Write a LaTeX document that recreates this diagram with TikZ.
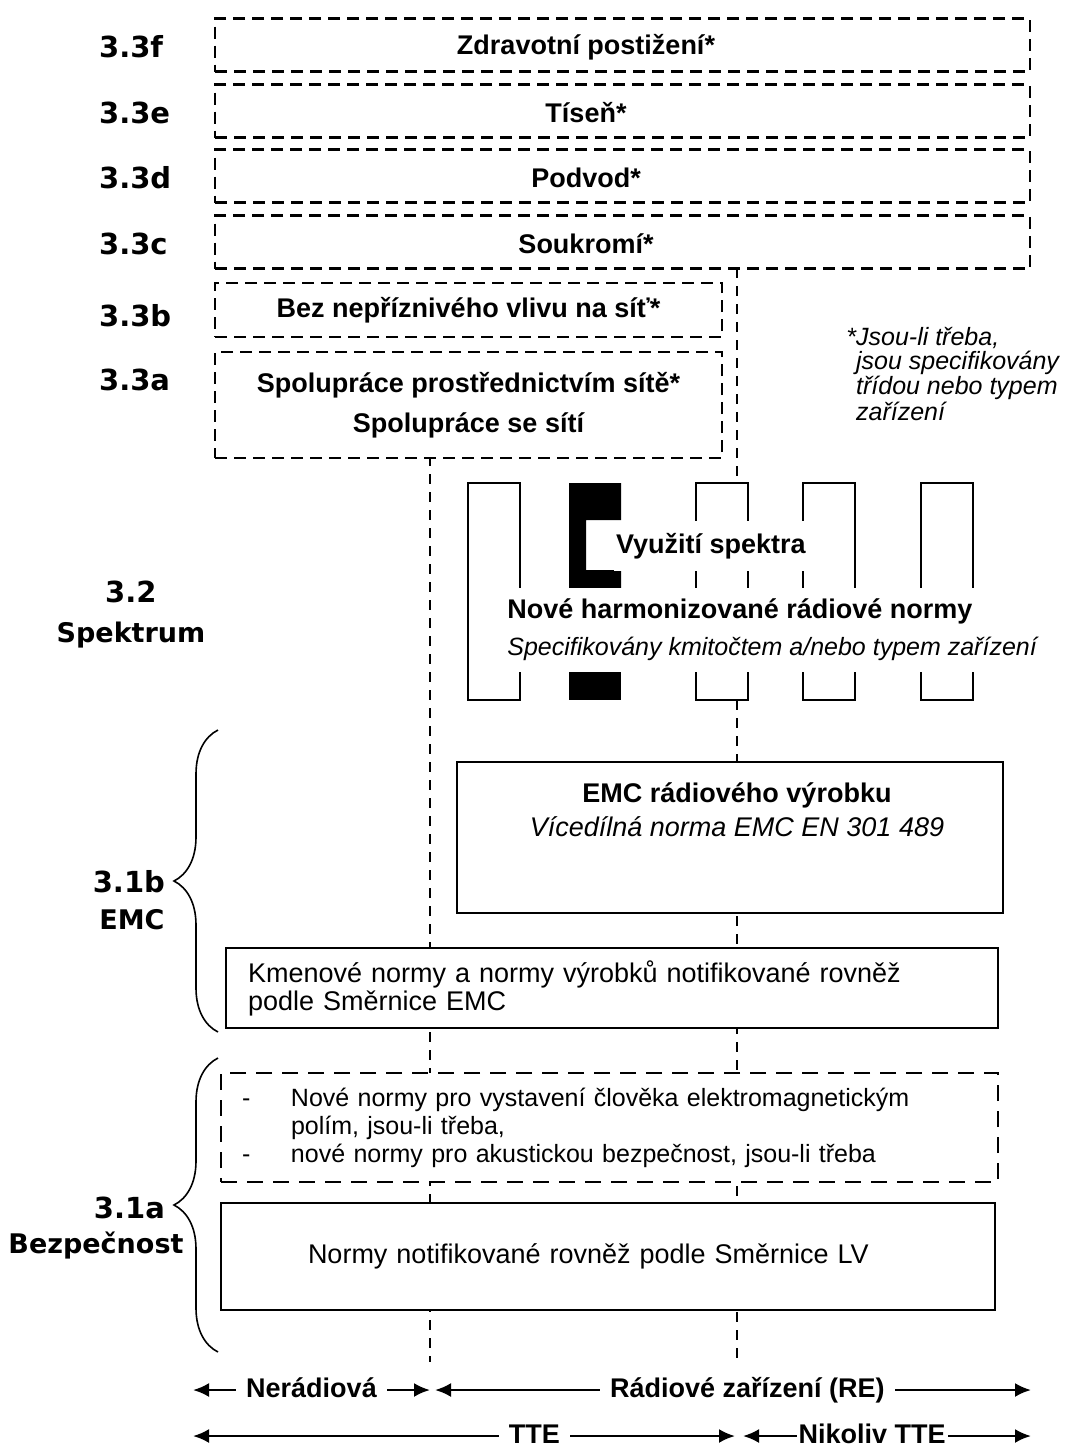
\documentclass[tikz,border=0pt]{standalone}
\usepackage{fontspec}
\setmainfont{Liberation Sans}
\newfontfamily\secfont{DejaVu Sans}
\usetikzlibrary{positioning, calc, arrows.meta, decorations.pathreplacing}

\tikzset{
    box/.style={draw, line width=1.3pt, fill=white, inner sep=0pt},
    dbox/.style={box, dash pattern=on 6pt off 3.5pt},
    longdbox/.style={box, dash pattern=on 8pt off 5pt},
    topbox/.style={dbox, minimum width=407.5pt, minimum height=26.5pt},
    bar/.style={draw, line width=1pt, fill=white},
    divider/.style={line width=0.9pt, dash pattern=on 5pt off 4pt},
    head/.style={font=\bfseries\fontsize{13.5}{20}\selectfont},
    body/.style={font=\fontsize{13.5}{14}\selectfont},
    note/.style={font=\itshape\fontsize{12.5}{10.5}\selectfont, align=left, inner sep=0pt},
    seclab/.style={font=\secfont\bfseries\fontsize{13.5}{16}\selectfont},
    secnum/.style={font=\secfont\bfseries\fontsize{14.5}{16}\selectfont},
    sect/.style={decorate, decoration={brace, amplitude=22pt}, line width=0.8pt},
    span/.style={{Latex[length=8pt,width=7pt]}-{Latex[length=8pt,width=7pt]}, line width=1.2pt},
    spanlab/.style={fill=white, inner xsep=5pt, text height=10pt, text depth=3pt,
                    font=\bfseries\fontsize{13.5}{16}\selectfont}
}

\begin{document}
\begin{tikzpicture}[x=0.5pt, y=-0.5pt]
    \useasboundingbox (0,0) rectangle (1065,1452);

    % Dividers (non-radio / RE, TTE / not TTE)
    \coordinate (nrtop) at (430,456);
    \coordinate (nrbase) at (430,1362);
    \coordinate (retop) at (737,268);
    \coordinate (rebase) at (737,1362);
    \draw[divider] (nrtop) -- (nrbase);
    \draw[divider] (retop) -- (rebase);

    % 3.3c - 3.3f
    \foreach \nm/\y/\lab/\sn in {zdravi/45/{Zdravotní postižení*}/3.3f,
                                 tisen/111/{Tíseň*}/3.3e,
                                 podvod/176/{Podvod*}/3.3d,
                                 soukromi/242/{Soukromí*}/3.3c} {
        \node[topbox] (\nm) at (622.5,\y) {};
        \node[head] (\nm txt) at (586,\y+2) {\lab};
        \node[secnum, anchor=west] (\nm sec) at (92,\y+2) {\sn};
    }

    % 3.3b, 3.3a
    \node[dbox, minimum width=253.5pt, minimum height=27pt, head] (nepriz) at (468.5,310)
        {Bez nepříznivého vlivu na síť*};
    \node[dbox, minimum width=253.5pt, minimum height=53pt, head, align=center] (spoluprace) at (468.5,405)
        {Spolupráce prostřednictvím sítě*\\ Spolupráce se sítí};
    \node[secnum, anchor=west] (nepriz sec) at (92,316) {3.3b};
    \node[secnum, anchor=west] (spoluprace sec) at (92,380) {3.3a};

    % Footnote
    \node[note, anchor=north west] (pozn) at (846,327)
        {*Jsou-li třeba,\\ \phantom{*}jsou specifikovány\\ \phantom{*}třídou nebo typem\\ \phantom{*}zařízení};

    % 3.2 Spectrum
    \foreach \x in {468, 696, 803, 921}
        \draw[bar] (\x,483) rectangle (\x+52,700);
    \fill (569,483) -- (621,483) -- (621,520) -- (586,520) -- (586,570)
        -- (621,570) -- (621,588) -- (569,588) -- cycle;
    \fill (569,672) rectangle (621,700);
    \node[fill=white, anchor=east, minimum height=25pt, inner xsep=1pt, head] (vyuziti) at (808,546)
        {Využití spektra};
    \node[fill=white, anchor=west, minimum height=42pt, inner xsep=1pt, align=left,
          font=\fontsize{13.5}{18.5}\selectfont] (harm) at (505,630)
        {{\bfseries Nové harmonizované rádiové normy}\\
         {\itshape\fontsize{12.5}{18.5}\selectfont Specifikovány kmitočtem a/nebo typem zařízení}};
    \node[secnum, anchor=west] (spektrum sec) at (98,592) {3.2};
    \node[seclab] (spektrum) at (131,635) {Spektrum};

    % 3.1b EMC
    \node[box, minimum width=273pt, minimum height=75.5pt] (emc) at (730,837.5) {};
    \node[align=center, font=\fontsize{13.5}{17}\selectfont] (emc txt) at (737,810)
        {\textbf{EMC rádiového výrobku}\\ \textit{Vícedílná norma EMC EN 301 489}};
    \node[box, minimum height=40pt, text width=364pt, inner xsep=11pt, align=left, body] (kmen) at (612,988)
        {Kmenové normy a normy výrobků notifikované rovněž\\ podle Směrnice EMC};
    \coordinate (emcbot) at (218,1032);
    \coordinate (emctop) at (218,730);
    \draw[sect] (emcbot) -- (emctop);
    \node[secnum, anchor=east] (emc sec) at (172,882) {3.1b};
    \node[seclab] (emc lab) at (132,920) {EMC};

    % 3.1a Safety
    \node[longdbox, minimum height=54.5pt, text width=367.5pt, inner xsep=10.5pt, align=left,
          font=\fontsize{12.5}{14}\selectfont] (expo) at (609.5,1127.5)
        {\makebox[24.5pt][l]{-}Nové normy pro vystavení člověka elektromagnetickým\\
         \hspace*{24.5pt}polím, jsou-li třeba,\\
         \makebox[24.5pt][l]{-}nové normy pro akustickou bezpečnost, jsou-li třeba};
    \node[box, minimum height=53.5pt, text width=300pt, inner xsep=43.5pt, align=left, body] (lv) at (608,1256.5)
        {Normy notifikované rovněž podle Směrnice LV};
    \coordinate (bezbot) at (218,1352);
    \coordinate (beztop) at (218,1058);
    \draw[sect] (bezbot) -- (beztop);
    \node[secnum, anchor=east] (bez sec) at (172,1208) {3.1a};
    \node[seclab] (bez lab) at (96,1245) {Bezpečnost};

    % Equipment spans
    \coordinate (nrL) at (193,1390);
    \coordinate (nrR) at (430,1390);
    \coordinate (reL) at (435,1390);
    \coordinate (reR) at (1031,1390);
    \coordinate (tteL) at (193,1436);
    \coordinate (tteR) at (735,1436);
    \coordinate (ntteL) at (743,1436);
    \coordinate (ntteR) at (1031,1436);
    \draw[span] (nrL) -- node[spanlab] (nerad) {Nerádiová} (nrR);
    \draw[span] (reL) -- node[spanlab, pos=0.524] (radio) {Rádiové zařízení (RE)} (reR);
    \draw[span] (tteL) -- node[spanlab, pos=0.63] (tte) {TTE} (tteR);
    \draw[span] (ntteL) -- node[spanlab, pos=0.448, inner xsep=1pt] (ntte) {Nikoliv TTE} (ntteR);
\end{tikzpicture}
\end{document}
